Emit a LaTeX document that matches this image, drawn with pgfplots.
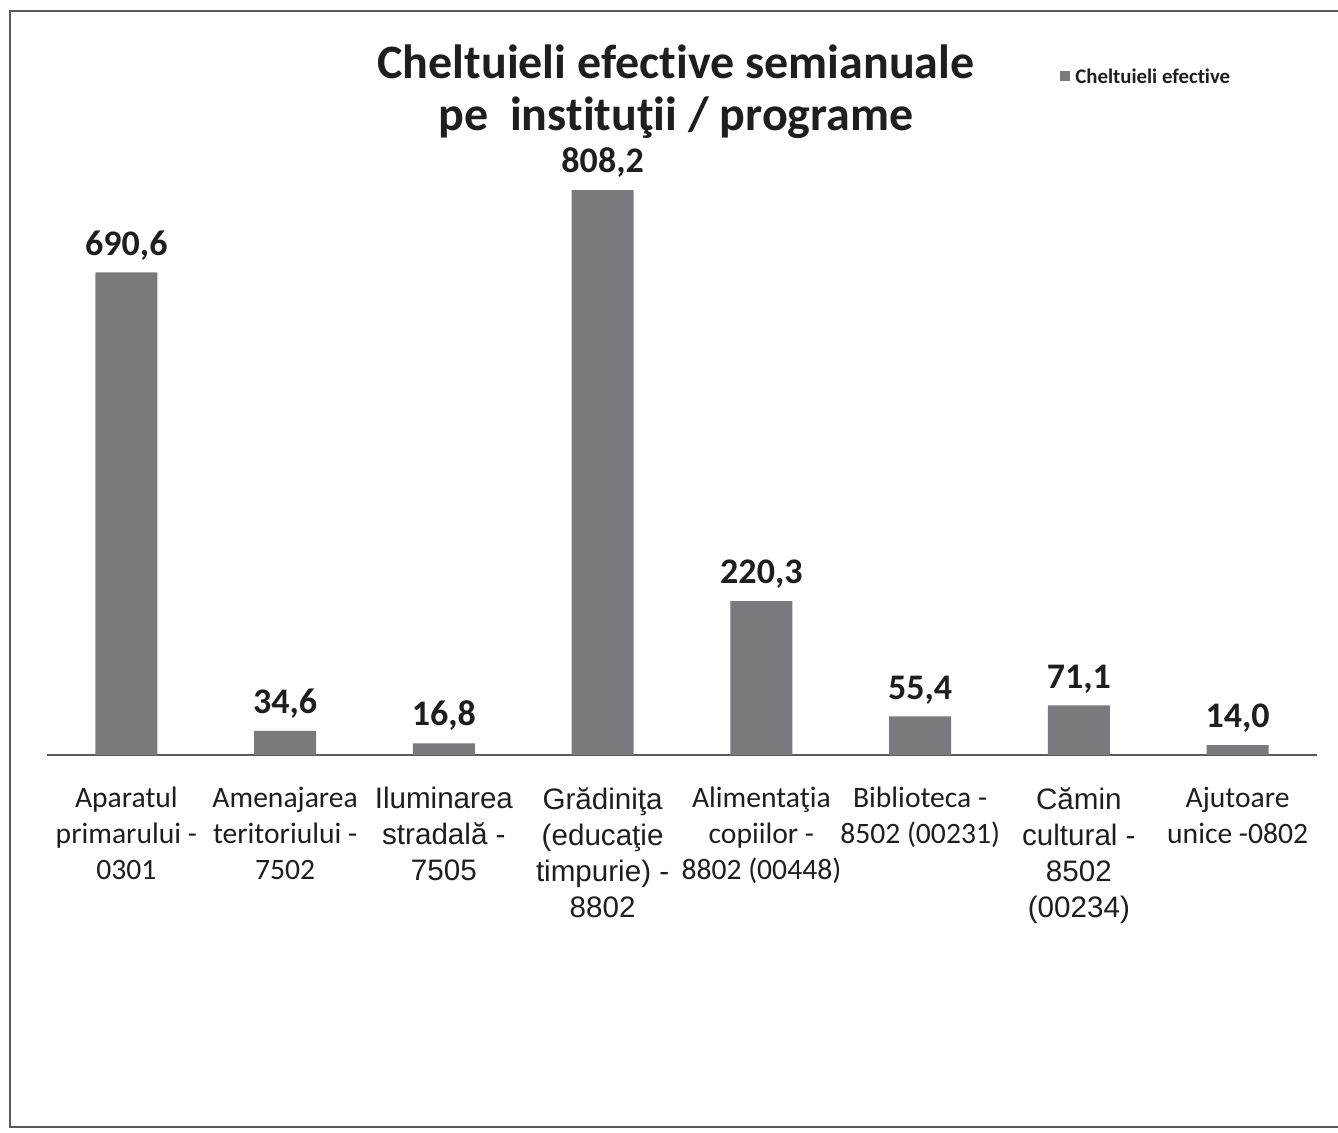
\documentclass[border=0pt]{standalone}
\usepackage{pgfplots}
\pgfplotsset{compat=1.18}
\usepackage{fontspec}
\setmainfont{Carlito}[Ligatures=NoCommon]
\newfontfamily\arl{Liberation Sans}
\definecolor{barc}{RGB}{122,122,126}
\definecolor{txt}{RGB}{30,30,30}
\definecolor{frm}{RGB}{90,90,90}
\begin{document}
\begin{tikzpicture}
\useasboundingbox (0,0) rectangle (669pt,-566.5pt);
\draw[frm, line width=0.9pt] (669pt,-5.5pt) -- (5pt,-5.5pt) -- (5pt,-563.5pt) -- (669pt,-563.5pt);
\node[txt, font=\bfseries\fontsize{24}{28}\selectfont] at (338pt,-31pt) {Cheltuieli efective semianuale};
\node[txt, font=\bfseries\fontsize{24}{28}\selectfont] at (338pt,-59pt) {pe\ \ instituţii / programe};
\fill[barc] (530pt,-35.5pt) rectangle (535pt,-40.5pt);
\node[txt, anchor=west, inner sep=0pt, font=\bfseries\fontsize{10.4}{12}\selectfont] at (537.5pt,-38pt) {Cheltuieli efective};
\begin{axis}[
  at={(23.5pt,-377.5pt)}, anchor=south west,
  scale only axis, width=635pt, height=314.5pt,
  xmin=-0.5, xmax=7.5, ymin=0, ymax=900,
  axis x line*=bottom, axis y line=none,
  x axis line style={frm, line width=0.9pt, -},
  xtick=data, major tick length=0pt,
  xticklabels={
    {Aparatul\\primarului -\\0301},
    {Amenajarea\\teritoriului -\\7502},
    {\arl Iluminarea\\\arl stradală -\\\arl 7505},
    {\arl Grădiniţa\\\arl (educaţie\\\arl timpurie) -\\\arl 8802},
    {Alimentaţia\\copiilor -\\8802 (00448)},
    {Biblioteca -\\8502 (00231)},
    {\arl Cămin\\\arl cultural -\\\arl 8502\\\arl (00234)},
    {Ajutoare\\unice -0802}},
  xticklabel style={txt, align=center, anchor=north, inner sep=0pt, yshift=-16pt,
    font=\fontsize{14.8}{18}\selectfont},
  ytick=\empty,
  bar width=31pt,
  nodes near coords,
  nodes near coords style={txt, font=\bfseries\fontsize{18}{20}\selectfont, anchor=south, inner sep=2pt, yshift=4pt},
  /pgf/number format/.cd, fixed, fixed zerofill, precision=1, use comma, assume math mode=true,
]
\addplot[ybar, fill=barc, draw=none] coordinates {
  (0,690.6) (1,34.6) (2,16.8) (3,808.2) (4,220.3) (5,55.4) (6,71.1) (7,14.0)
};
\end{axis}
\end{tikzpicture}
\end{document}
